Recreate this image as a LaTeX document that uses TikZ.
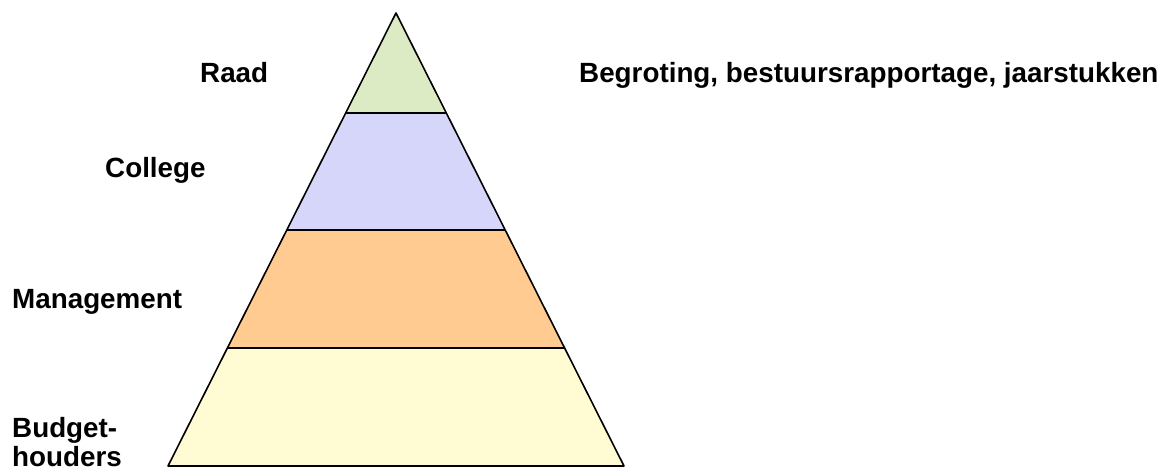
\documentclass[tikz,border=0pt]{standalone}
\usepackage{fontspec}
\setmainfont{Liberation Sans}
\usetikzlibrary{calc}
\definecolor{cRaad}{HTML}{DDEBC5}
\definecolor{cCollege}{HTML}{D6D6FA}
\definecolor{cMan}{HTML}{FFCB91}
\definecolor{cBud}{HTML}{FFFCD4}
\tikzset{
  layer/.style={draw=black, line width=1.6pt, line join=round},
  lbl/.style={font=\fontsize{27.8}{29}\selectfont\bfseries, inner sep=0pt, anchor=base west, align=left}
}
\begin{document}
\begin{tikzpicture}[x=1pt,y=-1pt]
\useasboundingbox (0,0) rectangle (1165,468);
\coordinate (A) at (396,13);
\coordinate (BL) at (168,466);
\coordinate (BR) at (624,466);
\coordinate (L1) at ($(A)!0.2208!(BL)$);
\coordinate (R1) at ($(A)!0.2208!(BR)$);
\coordinate (L2) at ($(A)!0.479!(BL)$);
\coordinate (R2) at ($(A)!0.479!(BR)$);
\coordinate (L3) at ($(A)!0.7395!(BL)$);
\coordinate (R3) at ($(A)!0.7395!(BR)$);
\fill[cRaad] (A) -- (R1) -- (L1) -- cycle;
\fill[cCollege] (L1) -- (R1) -- (R2) -- (L2) -- cycle;
\fill[cMan] (L2) -- (R2) -- (R3) -- (L3) -- cycle;
\fill[cBud] (L3) -- (R3) -- (BR) -- (BL) -- cycle;
\draw[layer] (A) -- (BR) -- (BL) -- cycle;
\draw[layer] (L1) -- (R1);
\draw[layer] (L2) -- (R2);
\draw[layer] (L3) -- (R3);
\node[lbl] (raad) at (200,83) {Raad};
\node[lbl] (college) at (105,178) {College};
\node[lbl] (management) at (12,308) {Management};
\node[lbl] (budget) at (12,437) {Budget-};
\node[lbl] (houders) at (12,466) {houders};
\node[lbl] (begroting) at (579,83) {Begroting, bestuursrapportage, jaarstukken};
\end{tikzpicture}
\end{document}
